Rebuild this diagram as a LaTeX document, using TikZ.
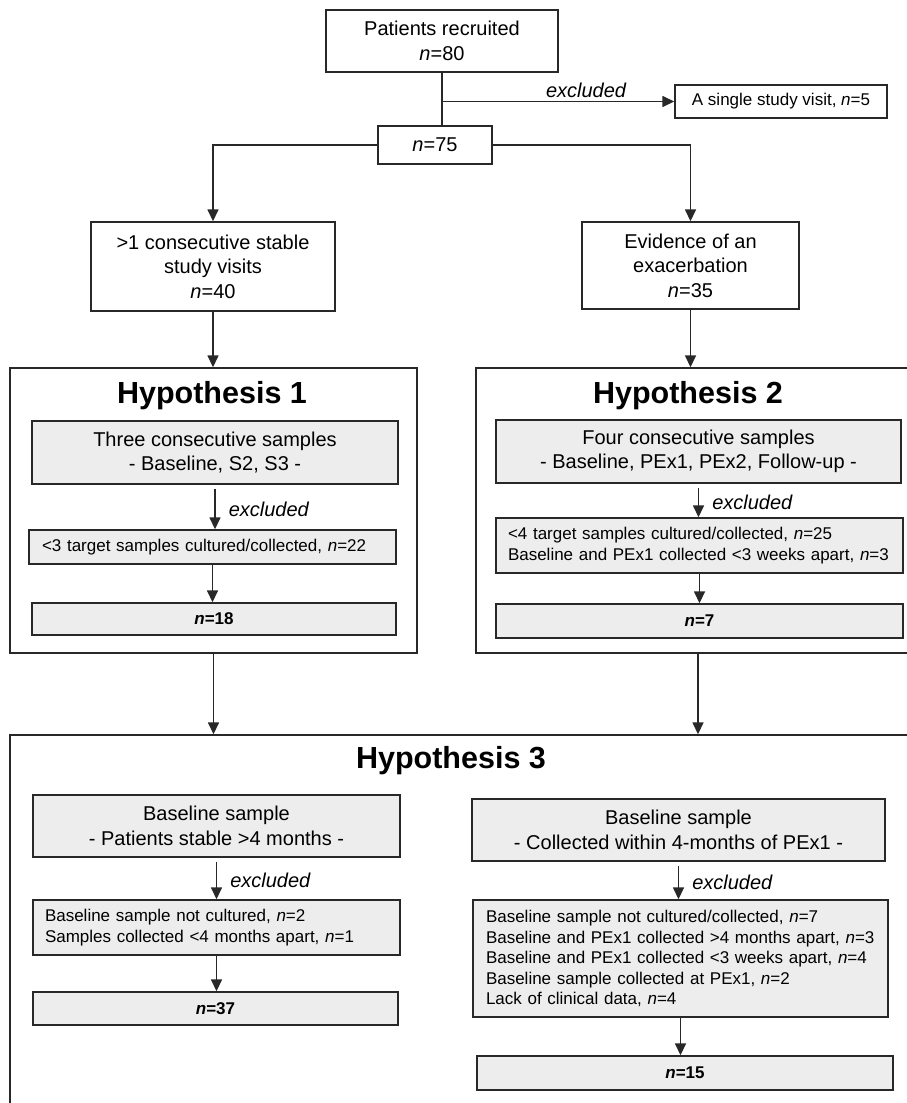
\documentclass[tikz,border=0pt]{standalone}
\usepackage{fontspec}
\setmainfont{Liberation Sans}
\usetikzlibrary{arrows.meta}
\definecolor{boxgrey}{RGB}{237,237,237}
\definecolor{linegrey}{RGB}{40,40,40}
\newcommand\boxfont{\fontsize{20}{24.5}\selectfont}
\newcommand\listfont{\fontsize{17}{20.5}\selectfont}
\newcommand\headfont{\fontsize{30.5}{36}\selectfont\bfseries}
\newcommand\nn{\textit{n}}
\begin{document}
\begin{tikzpicture}
[x=1pt, y=-1pt,
  plainbox/.style={shape=rectangle,draw=linegrey,fill=white,line width=1.4pt,
    align=center,font=\boxfont,inner sep=0pt},
  greybox/.style={plainbox,fill=boxgrey},
  listbox/.style={greybox,font=\listfont,align=left},
  countbox/.style={greybox,font=\listfont\bfseries},
  groupframe/.style={shape=rectangle,draw=linegrey,line width=1.4pt,inner sep=0pt},
  grouptitle/.style={font=\headfont,anchor=base,inner sep=0pt},
  exclabel/.style={font=\boxfont\itshape,anchor=west,inner sep=0pt,xshift=13pt},
  linedecorate/.style={draw=linegrey,line width=1.5pt},
  arrowdecorate/.style={linedecorate,-{Triangle[length=12pt,width=11pt]}}]
\useasboundingbox (0,0) rectangle (907,1103);
%% group frames
\node (hypone) at (213.5,510.5) [groupframe,minimum width=407pt,minimum height=285pt] {};
\node (hyptwo) at (698,510.5) [groupframe,minimum width=444pt,minimum height=285pt] {};
\node (hypthree) at (465,925) [groupframe,minimum width=910pt,minimum height=380pt] {};
\node (titleone) at (212,403) [grouptitle] {Hypothesis 1};
\node (titletwo) at (688,403) [grouptitle] {Hypothesis 2};
\node (titlethree) at (451,768) [grouptitle] {Hypothesis 3};
%% recruitment
\node (recruited) at (442,41) [plainbox,minimum width=232pt,minimum height=62pt]
  {Patients recruited\\ \nn=80};
\node (single) at (781,101.5) [plainbox,font=\listfont,minimum width=212pt,minimum height=33pt]
  {A single study visit, \nn=5};
\node (remaining) at (435,145) [plainbox,minimum width=114pt,minimum height=38pt] {\nn=75};
\node (stable) at (213,266.5) [plainbox,minimum width=244pt,minimum height=89pt]
  {>1 consecutive stable\\ study visits\\ \nn=40};
\node (evidence) at (690.5,265.5) [plainbox,minimum width=217pt,minimum height=87pt]
  {Evidence of an\\ exacerbation\\ \nn=35};
%% hypothesis 1
\node (sampone) at (215,452.5) [greybox,minimum width=366pt,minimum height=63pt]
  {Three consecutive samples\\ - Baseline, S2, S3 -};
\node (exclone) at (212.5,547) [listbox,inner xsep=13pt,text width=341pt,minimum height=34pt]
  {<3 target samples cultured/collected, \nn=22};
\node (countone) at (214,619) [countbox,minimum width=364pt,minimum height=32pt] {\nn=18};
%% hypothesis 2
\node (samptwo) at (698.5,451.5) [greybox,minimum width=405pt,minimum height=63pt]
  {Four consecutive samples\\ - Baseline, PEx1, PEx2, Follow-up -};
\node (excltwo) at (699.5,545.5) [listbox,inner xsep=12pt,text width=383pt,minimum height=55pt]
  {<4 target samples cultured/collected, \nn=25\\
   Baseline and PEx1 collected <3 weeks apart, \nn=3};
\node (counttwo) at (699.5,621) [countbox,minimum width=407pt,minimum height=34pt] {\nn=7};
%% hypothesis 3
\node (sampthree) at (216.5,826) [greybox,minimum width=367pt,minimum height=62pt]
  {Baseline sample\\ - Patients stable >4 months -};
\node (exclthree) at (216.5,927.5) [listbox,inner xsep=12pt,text width=343pt,minimum height=55pt]
  {Baseline sample not cultured, \nn=2\\
   Samples collected <4 months apart, \nn=1};
\node (countthree) at (215.5,1008.5) [countbox,minimum width=365pt,minimum height=33pt] {\nn=37};
\node (sampfour) at (678.5,830) [greybox,minimum width=413pt,minimum height=62pt]
  {Baseline sample\\ - Collected within 4-months of PEx1 -};
\node (exclfour) at (680.5,958.5) [listbox,inner xsep=13pt,text width=389pt,minimum height=117pt]
  {Baseline sample not cultured/collected, \nn=7\\
   Baseline and PEx1 collected >4 months apart, \nn=3\\
   Baseline and PEx1 collected <3 weeks apart, \nn=4\\
   Baseline sample collected at PEx1, \nn=2\\
   Lack of clinical data, \nn=4};
\node (countfour) at (685,1073) [countbox,minimum width=416pt,minimum height=34pt] {\nn=15};
%% connectors
\coordinate (split) at (recruited.south |- single.west);
\draw[linedecorate] (recruited.south) -- (recruited.south |- remaining.north);
\draw[arrowdecorate] (split) -- (single.west)
  node[pos=0.62,above=3pt,font=\boxfont\itshape,inner sep=0pt] (exclabeltop) {excluded};
\draw[arrowdecorate] (remaining.west) -| (stable.north);
\draw[arrowdecorate] (remaining.east) -| (evidence.north);
\path
\foreach \startnode/\endnode in {stable/hypone, evidence/hyptwo, hypone/hypthree,
  hyptwo/hypthree, exclone/countone, excltwo/counttwo, exclthree/countthree,
  exclfour/countfour} {
  (\startnode.south) edge[arrowdecorate] (\startnode.south |- \endnode.north)
};
\path
\foreach \startnode/\endnode in {sampone/exclone, samptwo/excltwo,
  sampthree/exclthree, sampfour/exclfour} {
  ([yshift=-4pt]\startnode.south) edge[arrowdecorate]
    node[exclabel] {excluded} (\startnode.south |- \endnode.north)
};
\end{tikzpicture}
\end{document}
